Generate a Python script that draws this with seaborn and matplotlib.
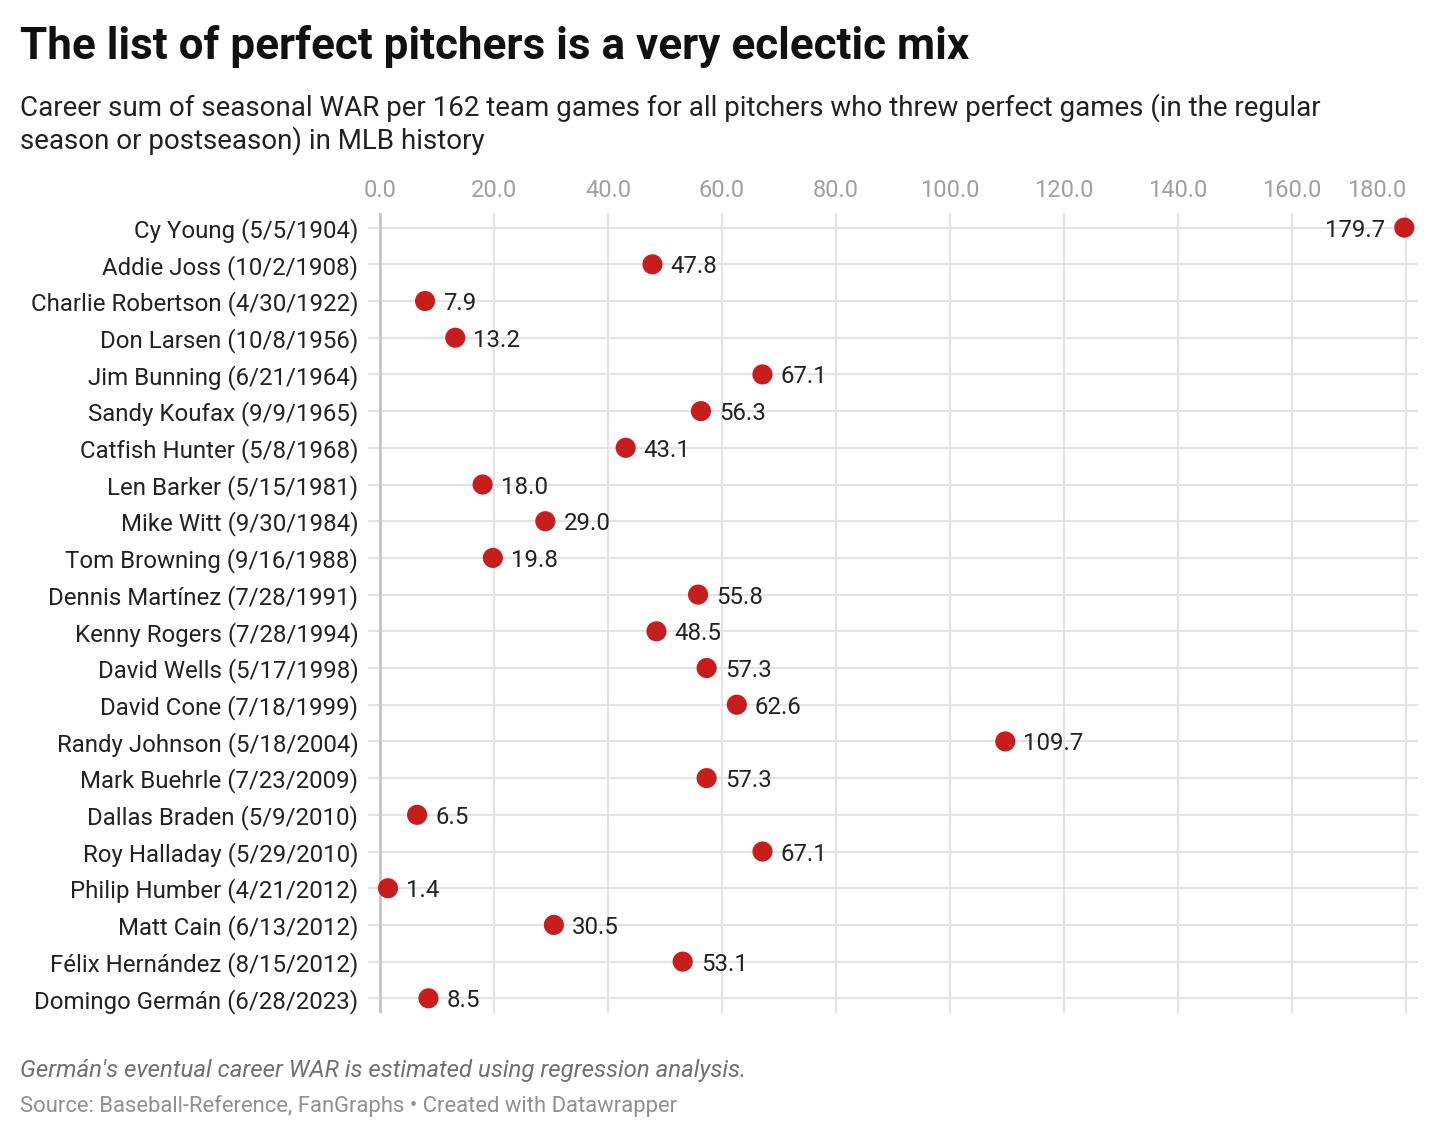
import matplotlib
matplotlib.use("Agg")
import matplotlib.pyplot as plt
import seaborn as sns
import pandas as pd

pitchers = [
    "Cy Young (5/5/1904)", "Addie Joss (10/2/1908)", "Charlie Robertson (4/30/1922)",
    "Don Larsen (10/8/1956)", "Jim Bunning (6/21/1964)", "Sandy Koufax (9/9/1965)",
    "Catfish Hunter (5/8/1968)", "Len Barker (5/15/1981)", "Mike Witt (9/30/1984)",
    "Tom Browning (9/16/1988)", "Dennis Martínez (7/28/1991)", "Kenny Rogers (7/28/1994)",
    "David Wells (5/17/1998)", "David Cone (7/18/1999)", "Randy Johnson (5/18/2004)",
    "Mark Buehrle (7/23/2009)", "Dallas Braden (5/9/2010)", "Roy Halladay (5/29/2010)",
    "Philip Humber (4/21/2012)", "Matt Cain (6/13/2012)", "Félix Hernández (8/15/2012)",
    "Domingo Germán (6/28/2023)",
]
war = [179.7, 47.8, 7.9, 13.2, 67.1, 56.3, 43.1, 18.0, 29.0, 19.8, 55.8,
       48.5, 57.3, 62.6, 109.7, 57.3, 6.5, 67.1, 1.4, 30.5, 53.1, 8.5]
x_ticks = [0, 20, 40, 60, 80, 100, 120, 140, 160, 180]

df = pd.DataFrame({"pitcher": pitchers, "war": war})

sns.set_style("white")
plt.rcParams["font.family"] = ["Roboto", "DejaVu Sans"]

fig = plt.figure(figsize=(14.4, 11.4), dpi=100)
ax = fig.add_axes([0.2556, 0.1114, 0.7291, 0.7018])

sns.scatterplot(data=df, x="war", y="pitcher", ax=ax, color="#c71e1d",
                s=210, edgecolor="none", zorder=3)

ax.set_xlim(-2.1, 182.1)
ax.set_ylim(len(pitchers) - 0.6, -0.4)
ax.set_xticks(x_ticks)
ax.set_xticklabels([f"{t:.1f}" for t in x_ticks])
ax.xaxis.tick_top()
ax.tick_params(axis="x", length=0, pad=8, labelsize=17, labelcolor="#a0a0a0")
ax.tick_params(axis="y", length=0, pad=7, labelsize=17.3, labelcolor="#222222")
ax.get_xticklabels()[-1].set_horizontalalignment("right")
ax.set_xlabel("")
ax.set_ylabel("")

for s in ax.spines.values():
    s.set_visible(False)

ax.grid(True, axis="both", color="#e3e3e3", linewidth=1.5, zorder=0)
ax.set_axisbelow(True)
ax.axvline(0, color="#c6c6c6", linewidth=2, zorder=1)

for i, v in enumerate(war):
    if v > 170:
        ax.annotate(f"{v:.1f}", (v, i), xytext=(-14, 0), textcoords="offset points",
                    ha="right", va="center_baseline", fontsize=17.3, color="#222222")
    else:
        ax.annotate(f"{v:.1f}", (v, i), xytext=(13, 0), textcoords="offset points",
                    ha="left", va="center_baseline", fontsize=17.3, color="#222222")

fig.text(0.014, 0.959, "The list of perfect pitchers is a very eclectic mix",
         fontsize=31.7, fontweight="bold", color="#111111", va="center")
fig.text(0.014, 0.891,
         "Career sum of seasonal WAR per 162 team games for all pitchers who threw perfect games (in the regular\n"
         "season or postseason) in MLB history",
         fontsize=20, color="#222222", va="center", linespacing=1.2)
fig.text(0.014, 0.061, "Germán's eventual career WAR is estimated using regression analysis.",
         fontsize=17.3, style="italic", color="#707070", va="center")
fig.text(0.014, 0.030, "Source: Baseball-Reference, FanGraphs • Created with Datawrapper",
         fontsize=15.8, color="#909090", va="center")

fig.savefig("out.png", dpi=100, facecolor="white")
